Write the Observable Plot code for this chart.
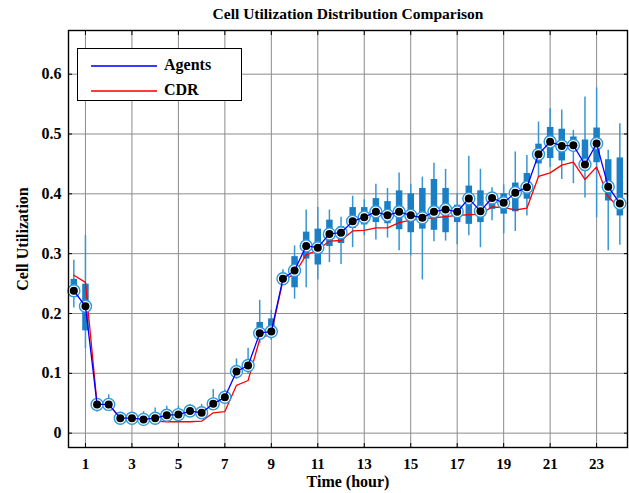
<!DOCTYPE html>
<html>
<head>
<meta charset="utf-8">
<script src="https://cdn.jsdelivr.net/npm/d3@7"></script>
<script src="https://cdn.jsdelivr.net/npm/@observablehq/plot@0.6"></script>
<style>
  body { margin: 0; background: #fff; }
  #wrap { position: relative; width: 629px; height: 493px; }
  #legend {
    position: absolute; left: 77px; top: 48px; width: 165px; height: 53px;
    border: 1px solid #000; background: #fff; box-sizing: border-box;
    font: bold 16px "Liberation Serif", "Times New Roman", serif; color: #000;
  }
  #legend .sw { position: absolute; left: 13px; width: 66px; height: 1.5px; }
  #legend .lb { position: absolute; left: 86px; line-height: 18px; }
</style>
</head>
<body>
<div id="wrap">
  <div id="chart"></div>
  <div id="legend">
    <div class="sw" style="top:16px;background:#3b3bff"></div>
    <div class="lb" style="top:7px">Agents</div>
    <div class="sw" style="top:41px;background:#ff3b3b"></div>
    <div class="lb" style="top:32px">CDR</div>
  </div>
</div>
<script>
// Half-hourly time slots (hours)
const times = [0.5, 1, 1.5, 2, 2.5, 3, 3.5, 4, 4.5, 5, 5.5, 6, 6.5, 7, 7.5, 8,
  8.5, 9, 9.5, 10, 10.5, 11, 11.5, 12, 12.5, 13, 13.5, 14, 14.5, 15, 15.5, 16,
  16.5, 17, 17.5, 18, 18.5, 19, 19.5, 20, 20.5, 21, 21.5, 22, 22.5, 23, 23.5, 24];

// Agents: median cell utilization per slot
const agentsMedian = [0.238, 0.212, 0.048, 0.048, 0.025, 0.025, 0.023, 0.025, 0.030, 0.031, 0.037, 0.034,
  0.049, 0.060, 0.103, 0.113, 0.167, 0.170, 0.258, 0.272, 0.313, 0.310, 0.333, 0.335,
  0.354, 0.361, 0.370, 0.364, 0.370, 0.364, 0.360, 0.370, 0.374, 0.370, 0.392, 0.371,
  0.393, 0.385, 0.402, 0.411, 0.466, 0.487, 0.480, 0.481, 0.449, 0.484, 0.412, 0.384];

// Agents: lower and upper quartiles
const agentsQ1 = [0.227, 0.171, 0.044, 0.045, 0.022, 0.022, 0.020, 0.022, 0.026, 0.027, 0.033, 0.030,
  0.044, 0.055, 0.097, 0.107, 0.158, 0.163, 0.252, 0.243, 0.291, 0.281, 0.312, 0.317,
  0.342, 0.348, 0.352, 0.350, 0.340, 0.335, 0.341, 0.339, 0.335, 0.352, 0.349, 0.352,
  0.374, 0.366, 0.370, 0.391, 0.450, 0.459, 0.455, 0.473, 0.438, 0.452, 0.388, 0.363];
const agentsQ3 = [0.257, 0.249, 0.052, 0.053, 0.028, 0.028, 0.027, 0.033, 0.034, 0.035, 0.042, 0.038,
  0.055, 0.066, 0.110, 0.120, 0.185, 0.191, 0.265, 0.295, 0.336, 0.341, 0.356, 0.345,
  0.377, 0.377, 0.392, 0.387, 0.405, 0.400, 0.409, 0.424, 0.409, 0.381, 0.413, 0.405,
  0.398, 0.400, 0.418, 0.434, 0.483, 0.511, 0.508, 0.495, 0.490, 0.510, 0.457, 0.460];

// Agents: whisker ends
const agentsLow = [0.209, 0.141, 0.035, 0.040, 0.015, 0.018, 0.015, 0.018, 0.020, 0.022, 0.028, 0.025,
  0.040, 0.050, 0.090, 0.099, 0.150, 0.155, 0.248, 0.224, 0.243, 0.256, 0.285, 0.282,
  0.310, 0.330, 0.323, 0.326, 0.305, 0.296, 0.256, 0.320, 0.321, 0.315, 0.330, 0.310,
  0.355, 0.333, 0.337, 0.363, 0.427, 0.444, 0.424, 0.417, 0.393, 0.360, 0.305, 0.314];
const agentsHigh = [0.289, 0.330, 0.055, 0.064, 0.031, 0.030, 0.036, 0.042, 0.045, 0.045, 0.048, 0.048,
  0.073, 0.072, 0.124, 0.142, 0.222, 0.205, 0.273, 0.313, 0.373, 0.377, 0.373, 0.361,
  0.396, 0.390, 0.416, 0.409, 0.435, 0.416, 0.428, 0.451, 0.441, 0.400, 0.463, 0.441,
  0.410, 0.415, 0.470, 0.464, 0.520, 0.542, 0.540, 0.506, 0.562, 0.577, 0.473, 0.517];

// CDR cell utilization per slot
const cdr = [0.264, 0.252, 0.048, 0.048, 0.025, 0.022, 0.020, 0.020, 0.019, 0.019, 0.019, 0.020,
  0.034, 0.036, 0.080, 0.088, 0.157, 0.167, 0.255, 0.266, 0.298, 0.306, 0.321, 0.322,
  0.338, 0.339, 0.343, 0.343, 0.352, 0.356, 0.358, 0.360, 0.362, 0.364, 0.365, 0.366,
  0.378, 0.377, 0.373, 0.376, 0.429, 0.435, 0.448, 0.453, 0.424, 0.445, 0.395, 0.376];

const xTicks = [1, 3, 5, 7, 9, 11, 13, 15, 17, 19, 21, 23];
const yTicks = [0, 0.1, 0.2, 0.3, 0.4, 0.5, 0.6];
const yTickLabels = ["0", "0.1", "0.2", "0.3", "0.4", "0.5", "0.6"];

const rows = times.map((t, i) => ({
  t, med: agentsMedian[i], q1: agentsQ1[i], q3: agentsQ3[i],
  lo: agentsLow[i], hi: agentsHigh[i], cdr: cdr[i]
}));

const boxColor = "#1a7fc4";
const font = '"Liberation Serif", "Times New Roman", serif';

const chart = Plot.plot({
  width: 629,
  height: 493,
  marginLeft: 68,
  marginRight: 2,
  marginTop: 30,
  marginBottom: 46,
  style: { fontFamily: font, fontWeight: "bold", fontSize: "15px", color: "#000", background: "#fff" },
  x: { domain: [0.27, 24.33], label: null },
  y: { domain: [-0.024, 0.673], label: null },
  marks: [
    Plot.gridX(xTicks, { stroke: "#8c8c8c", strokeOpacity: 1 }),
    Plot.gridY(yTicks, { stroke: "#8c8c8c", strokeOpacity: 1 }),
    // whiskers
    Plot.ruleX(rows, { x: "t", y1: "lo", y2: "hi", stroke: "#3896d6", strokeWidth: 1.5 }),
    // boxes (compact style)
    Plot.ruleX(rows, { x: "t", y1: "q1", y2: "q3", stroke: boxColor, strokeWidth: 6.5 }),
    // CDR
    Plot.line(rows, { x: "t", y: "cdr", stroke: "#ff0000", strokeWidth: 1.3 }),
    // median rings
    Plot.dot(rows, { x: "t", y: "med", r: 6, fill: "#fff", stroke: "#2c9ae0", strokeWidth: 1.4 }),
    // Agents median line
    Plot.line(rows, { x: "t", y: "med", stroke: "#0000ff", strokeWidth: 1.3 }),
    Plot.dot(rows, { x: "t", y: "med", r: 4, fill: "#000", stroke: "none" }),
    Plot.frame({ stroke: "#000", strokeWidth: 1.4 }),
    Plot.axisX(xTicks, { anchor: "bottom", tickSize: 0, tickPadding: 11, tickFormat: d => String(d), fontSize: 15 }),
    Plot.axisX(xTicks, { anchor: "bottom", tickSize: -4, tickFormat: () => "" }),
    Plot.axisX(xTicks, { anchor: "top", tickSize: -4, tickFormat: () => "" }),
    Plot.axisY(yTicks, { anchor: "left", tickSize: 0, tickPadding: 7, tickFormat: (d, i) => yTickLabels[i], fontSize: 16 }),
    Plot.axisY(yTicks, { anchor: "left", tickSize: -4, tickFormat: () => "" }),
    Plot.axisY(yTicks, { anchor: "right", tickSize: -4, tickFormat: () => "" }),
    Plot.text(["Cell Utilization Distribution Comparison"], { frameAnchor: "top", dy: -23, fontSize: 15.5, fontWeight: "bold" }),
    Plot.text(["Time (hour)"], { frameAnchor: "bottom", dy: 39, fontSize: 16, fontWeight: "bold" }),
    Plot.text(["Cell Utilization"], { frameAnchor: "left", textAnchor: "middle", dx: -46, rotate: -90, fontSize: 16, fontWeight: "bold" })
  ]
});

document.getElementById("chart").appendChild(chart);
</script>
</body>
</html>
